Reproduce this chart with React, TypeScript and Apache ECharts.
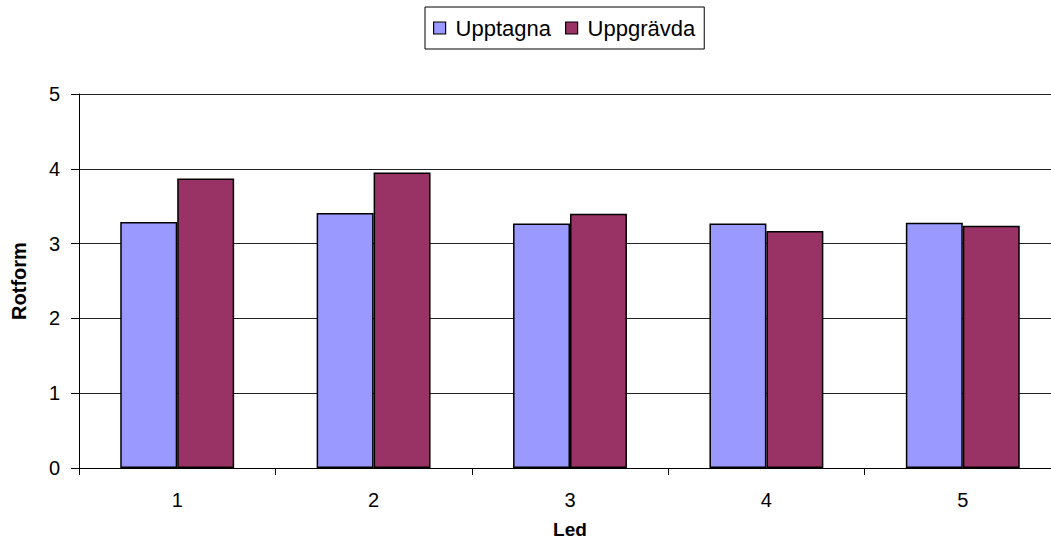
import React, { useEffect, useRef } from "react";
import * as echarts from "echarts";

const categories = ["1", "2", "3", "4", "5"];
const upptagna = [3.29, 3.41, 3.27, 3.27, 3.28];
const uppgravda = [3.87, 3.95, 3.40, 3.17, 3.24];
const yTicks = [0, 1, 2, 3, 4, 5];

export default function App() {
  const ref = useRef<HTMLDivElement>(null);
  useEffect(() => {
    document.body.style.margin = "0";
    document.body.style.overflow = "hidden";
    const chart = echarts.init(ref.current!, null, { renderer: "svg" });
    const font = "'Liberation Sans', Arial, sans-serif";
    chart.setOption({
      animation: false,
      textStyle: { fontFamily: font },
      legend: {
        top: 7,
        left: 425,
        orient: "horizontal",
        borderColor: "#000",
        borderWidth: 1,
        padding: [10, 9, 10, 8],
        itemGap: 14,
        itemWidth: 12,
        itemHeight: 12,
        icon: "rect",
        itemStyle: { borderColor: "#000", borderWidth: 1.2 },
        textStyle: { fontSize: 22, color: "#000", fontFamily: font, padding: [0, 0, 0, 5] },
        data: ["Upptagna", "Uppgrävda"],
      },
      grid: { left: 79, width: 982, top: 94, bottom: 91, containLabel: false },
      xAxis: {
        type: "category",
        data: categories,
        name: "Led",
        nameLocation: "middle",
        nameGap: 52,
        nameTextStyle: { fontSize: 19, fontWeight: "bold", color: "#000", fontFamily: font },
        axisLine: { lineStyle: { color: "#000", width: 1 } },
        axisTick: { show: true, length: 7, lineStyle: { color: "#000" } },
        axisLabel: { fontSize: 20, color: "#000", margin: 22, fontFamily: font },
      },
      yAxis: {
        type: "value",
        min: yTicks[0],
        max: yTicks[yTicks.length - 1],
        interval: 1,
        name: "Rotform",
        nameLocation: "middle",
        nameGap: 50,
        nameTextStyle: { fontSize: 20, fontWeight: "bold", color: "#000", fontFamily: font },
        axisLine: { show: true, lineStyle: { color: "#000", width: 1 } },
        axisTick: { show: true, length: 8, lineStyle: { color: "#000" } },
        axisLabel: { fontSize: 20, color: "#000", margin: 19, fontFamily: font },
        splitLine: { show: true, lineStyle: { color: "#222", width: 1 } },
      },
      series: [
        {
          name: "Upptagna",
          type: "bar",
          data: upptagna,
          barGap: "0%",
          barCategoryGap: "42%",
          itemStyle: { color: "#9999FF", borderColor: "#000", borderWidth: 1.5 },
        },
        {
          name: "Uppgrävda",
          type: "bar",
          data: uppgravda,
          barGap: "0%",
          barCategoryGap: "42%",
          itemStyle: { color: "#993366", borderColor: "#000", borderWidth: 1.5 },
        },
      ],
    });
    return () => chart.dispose();
  }, []);
  return (
    <div style={{ width: 1051, height: 559, overflow: "hidden", position: "relative" }}>
      <div ref={ref} style={{ width: 1100, height: 559 }} />
    </div>
  );
}
